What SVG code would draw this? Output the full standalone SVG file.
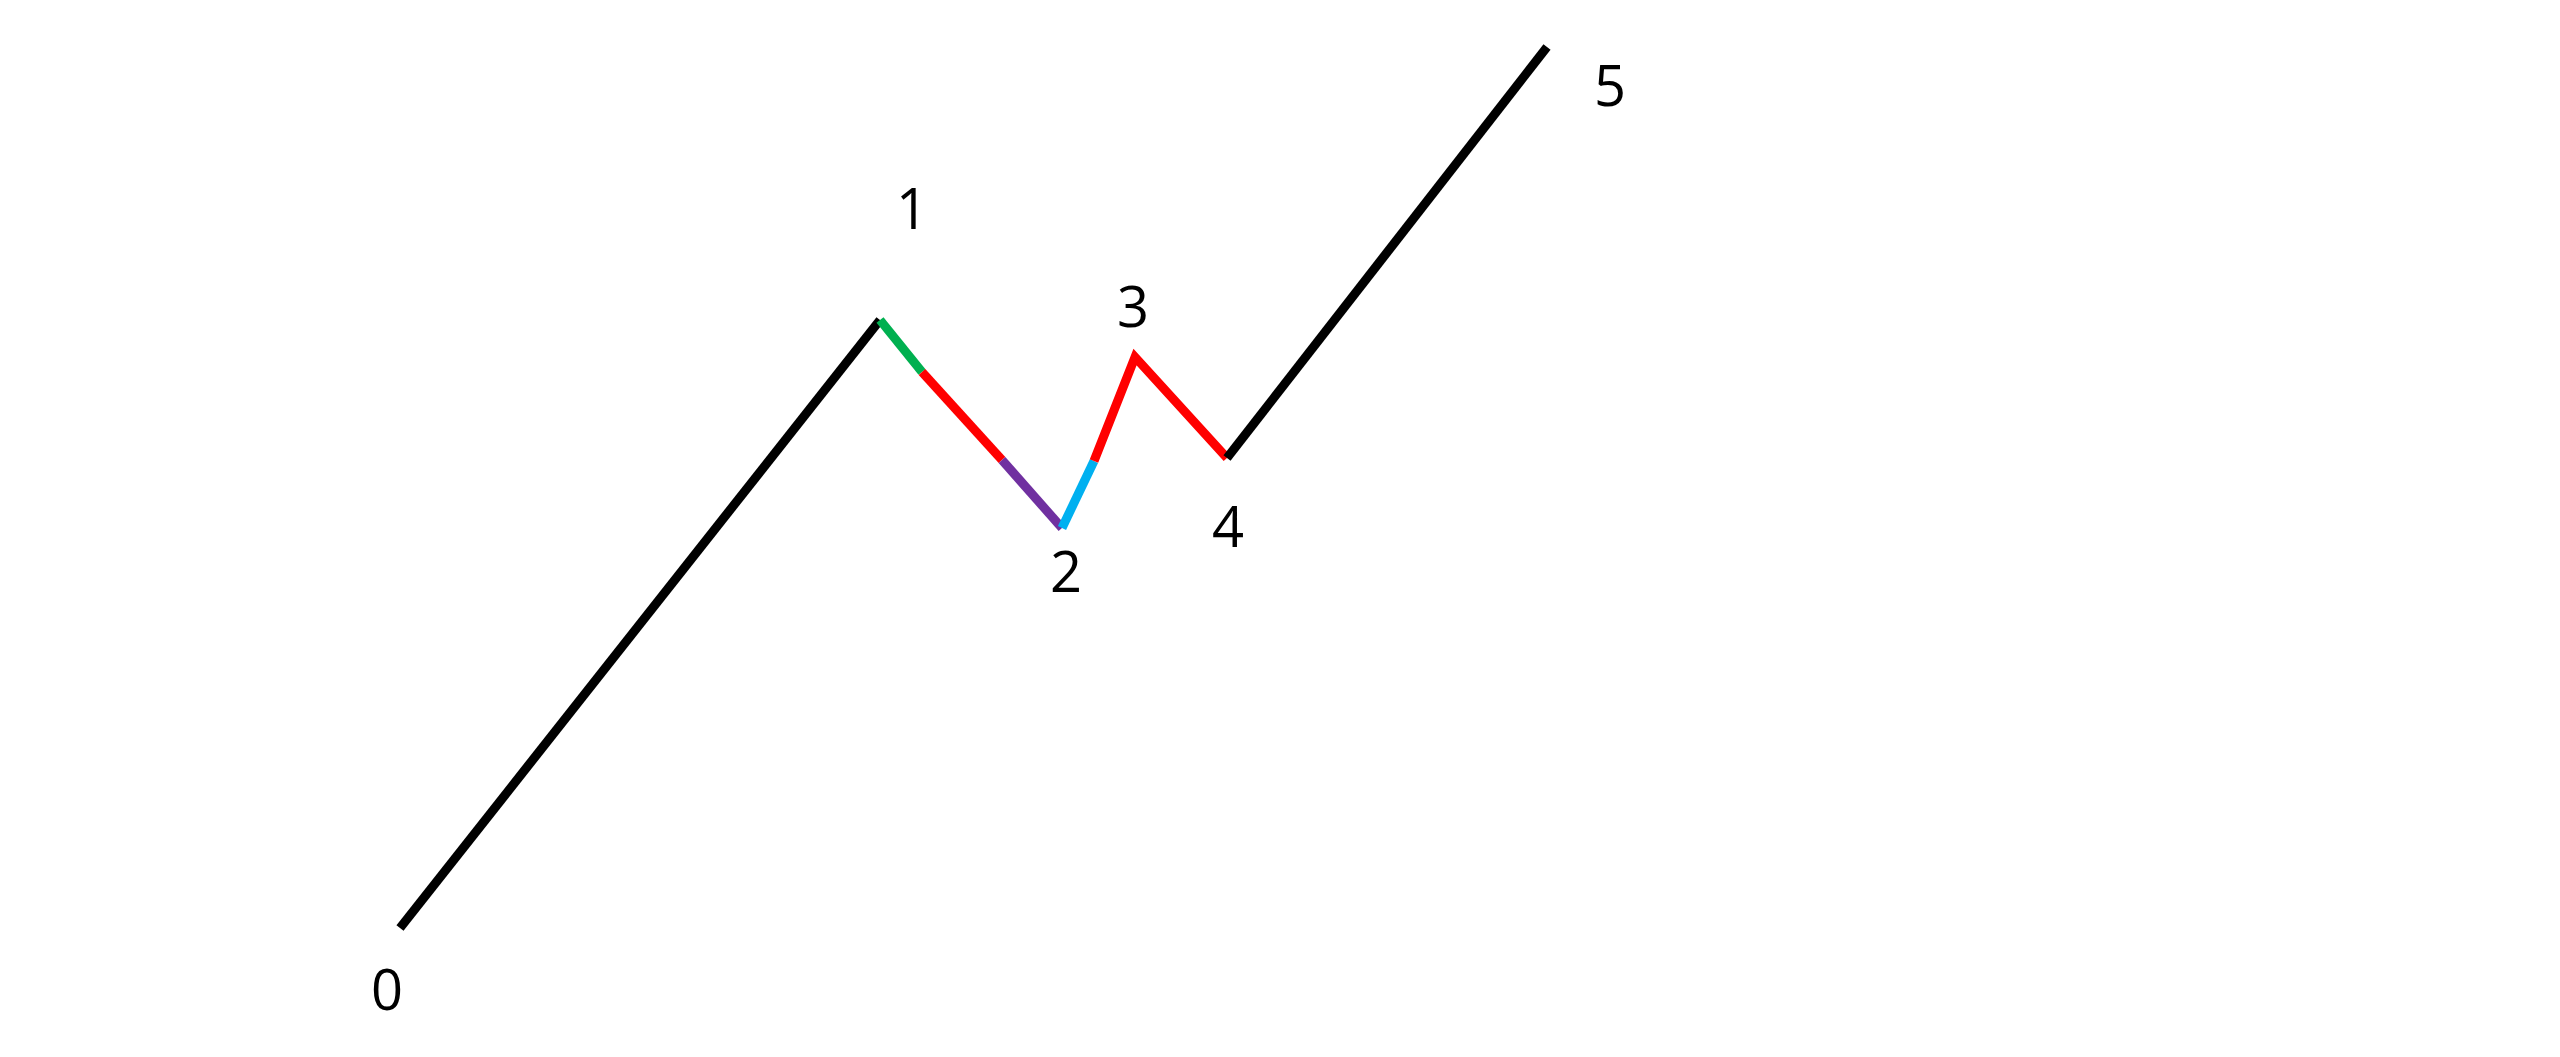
<svg xmlns="http://www.w3.org/2000/svg" width="2560" height="1057" viewBox="0 0 2560 1057">
<style>
.seg{fill:none;stroke-width:9;stroke-linecap:butt;stroke-linejoin:miter}
.lbl{font-family:"Open Sans","Liberation Sans",sans-serif;font-size:56px;fill:#000;text-anchor:middle}
</style>
<rect width="2560" height="1057" fill="#fff"/>
<g id="connectors">
<polyline class="seg" stroke="#000" points="400,928 880,320"/>
<polyline class="seg" stroke="#00b050" points="880,320 922,372"/>
<polyline class="seg" stroke="#ff0000" points="922,372 1002,460"/>
<polyline class="seg" stroke="#7030a0" points="1002,460 1062,528"/>
<polyline class="seg" stroke="#00b0f0" points="1062,528 1094,461"/>
<polyline class="seg" stroke="#ff0000" points="1094,461 1135,357 1227,458"/>
<polyline class="seg" stroke="#000" points="1227,458 1547,47"/>
</g>
<g id="label-0"><text class="lbl" x="387" y="1010">0</text></g>
<g id="label-1"><text class="lbl" x="912" y="229">1</text></g>
<g id="label-2"><text class="lbl" x="1066" y="592">2</text></g>
<g id="label-3"><text class="lbl" x="1133" y="327">3</text></g>
<g id="label-4"><text class="lbl" x="1228" y="547">4</text></g>
<g id="label-5"><text class="lbl" x="1610" y="106">5</text></g>
</svg>
